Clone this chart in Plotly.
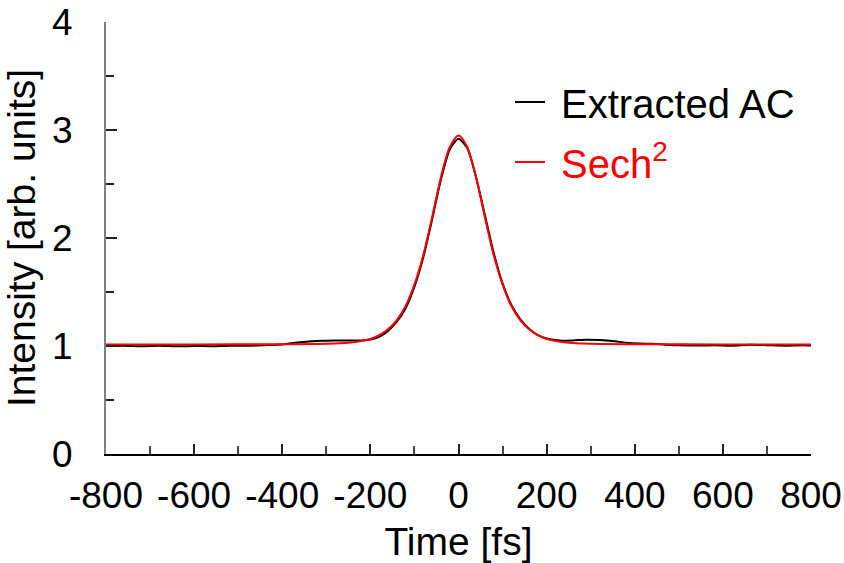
import plotly.graph_objects as go

# Extracted autocorrelation
ac_time = [-800, -760, -720, -680, -640, -600, -560, -520, -480, -440, -400, -370, -340, -310, -280,
           -250, -220, -200, -180, -160, -140, -120, -100, -80, -60, -40, -20, 0,
           20, 40, 60, 80, 100, 120, 140, 160, 180, 200, 230, 260, 290, 320, 350, 380,
           410, 440, 470, 500, 540, 580, 620, 660, 700, 740, 780, 800]
ac_val = [1.000, 1.003, 0.998, 1.002, 0.997, 1.000, 0.998, 1.003, 1.002, 1.008, 1.015, 1.030, 1.042, 1.048, 1.052,
          1.050, 1.052, 1.060, 1.085, 1.140, 1.225, 1.350, 1.550, 1.820, 2.170, 2.540, 2.820, 2.920,
          2.830, 2.560, 2.210, 1.860, 1.580, 1.380, 1.250, 1.160, 1.100, 1.070, 1.050, 1.052, 1.058, 1.055, 1.046, 1.030,
          1.022, 1.020, 1.012, 1.006, 1.004, 1.006, 1.003, 1.012, 1.008, 1.003, 1.008, 1.005]

# Sech^2 fit
fit_time = [-800, -600, -400, -300, -250, -200, -180, -160, -140, -120, -100, -80, -60, -40, -20, 0,
            20, 40, 60, 80, 100, 120, 140, 160, 180, 200, 250, 300, 400, 600, 800]
fit_val = [1.015, 1.015, 1.016, 1.020, 1.030, 1.065, 1.100, 1.155, 1.240, 1.370, 1.570, 1.840, 2.190, 2.560, 2.840, 2.950,
           2.840, 2.560, 2.190, 1.840, 1.570, 1.370, 1.240, 1.155, 1.100, 1.065, 1.030, 1.020, 1.016, 1.015, 1.015]

x_ticks = [-800, -600, -400, -200, 0, 200, 400, 600, 800]
y_ticks = [0, 1, 2, 3, 4]

FONT = "Liberation Sans, Arial, sans-serif"

fig = go.Figure()
fig.add_trace(go.Scatter(x=ac_time, y=ac_val, mode="lines", name="&nbsp;Extracted AC",
                         line=dict(color="black", width=2, shape="spline", smoothing=0.6),
                         legendgroup="a"))
fig.add_trace(go.Scatter(x=fit_time, y=fit_val, mode="lines",
                         name="<span style='color:#ff0000'>&nbsp;Sech<sup>2</sup></span>",
                         line=dict(color="#ff0000", width=2, shape="spline", smoothing=0.8),
                         legendgroup="b"))

fig.update_layout(
    width=844, height=563,
    margin=dict(l=106, r=33, t=22, b=109, autoexpand=False),
    paper_bgcolor="white", plot_bgcolor="white",
    font=dict(family=FONT, size=37, color="black"),
    legend=dict(x=0.573, y=0.89, xanchor="left", yanchor="top",
                bgcolor="rgba(0,0,0,0)", font=dict(size=40, family=FONT),
                tracegroupgap=5, itemwidth=30),
    showlegend=True,
)
fig.update_xaxes(
    range=[-800, 800], tickvals=x_ticks, ticktext=[str(v) for v in x_ticks],
    ticks="inside", ticklen=10, tickwidth=1.5, tickcolor="#222",
    minor=dict(dtick=100, ticks="inside", ticklen=8, tickwidth=1.5, tickcolor="#444"),
    showline=True, linecolor="black", linewidth=2, showgrid=False, zeroline=False,
    ticklabelstandoff=8, automargin=False,
    title=dict(text="Time [fs]", font=dict(size=39, family=FONT), standoff=12),
)
fig.update_yaxes(
    range=[0, 4], tickvals=y_ticks, ticktext=[str(v) for v in y_ticks],
    ticks="inside", ticklen=11, tickwidth=1.5, tickcolor="#222",
    minor=dict(dtick=0.5, ticks="inside", ticklen=8, tickwidth=1.5, tickcolor="#222"),
    showline=True, linecolor="#808080", linewidth=2, showgrid=False, zeroline=False,
    ticklabelstandoff=24, automargin=False,
    title=dict(text="Intensity [arb. units]", font=dict(size=39, family=FONT), standoff=4),
)

fig.write_html("out.html")
